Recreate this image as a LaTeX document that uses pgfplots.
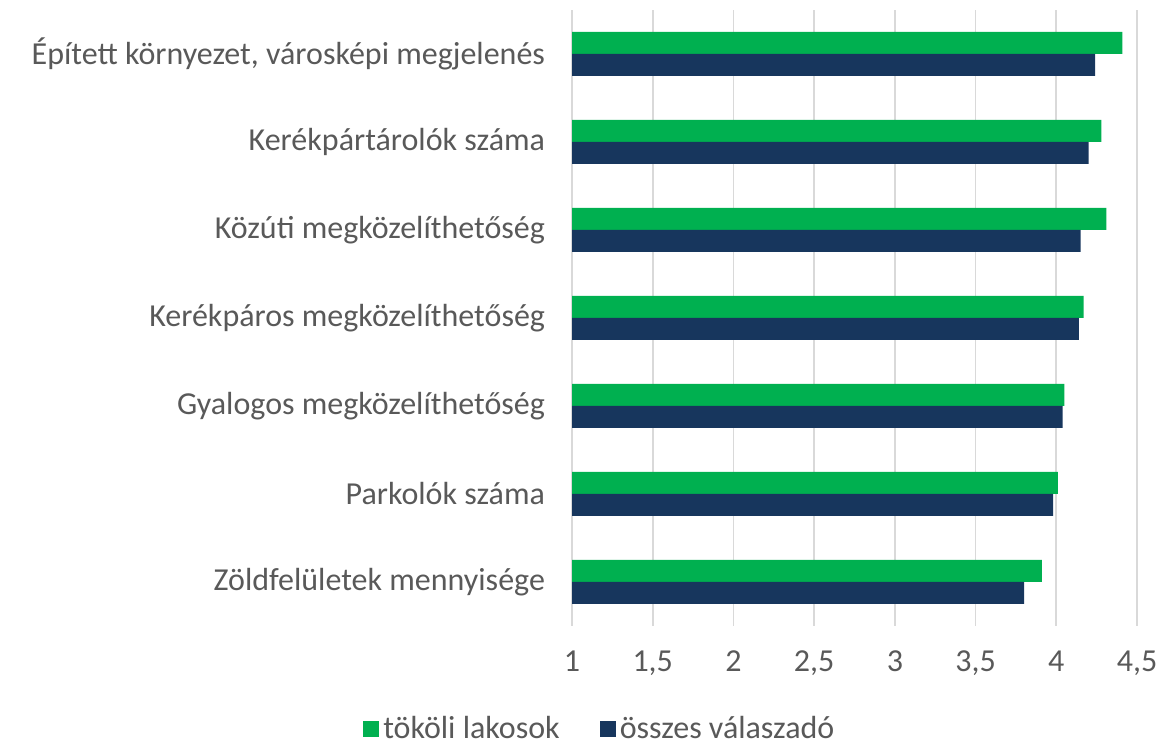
\documentclass[border=0pt]{standalone}
\usepackage{fontspec}
\setmainfont{Carlito}
\usepackage{pgfplots}
\pgfplotsset{compat=1.18}
\definecolor{zold}{HTML}{00B050}
\definecolor{kek}{HTML}{17365D}
\definecolor{szurke}{HTML}{595959}
\definecolor{racs}{HTML}{D9D9D9}
\begin{document}
\begin{tikzpicture}
\begin{axis}[
  name=ax,
  scale only axis,
  width=282.5pt, height=308pt,
  xbar, bar width=11pt,
  xmin=1, xmax=4.5,
  ymin=-0.5, ymax=6.5,
  xtick={1,1.5,...,4.5},
  ytick={0,...,6},
  yticklabels={Zöldfelületek mennyisége, Parkolók száma, Gyalogos megközelíthetőség, Kerékpáros megközelíthetőség, Közúti megközelíthetőség, Kerékpártárolók száma, {Épített környezet, városképi megjelenés}},
  /pgf/number format/use comma,
  /pgf/number format/assume math mode=true,
  xmajorgrids, major grid style={racs, line width=0.8pt},
  axis line style={draw=none},
  axis x line*=bottom, axis y line*=left,
  major tick length=0pt,
  tick label style={font=\fontsize{16}{19}\selectfont, text=szurke},
  xticklabel style={yshift=-9pt},
  yticklabel style={xshift=-10pt},
  legend style={at={(axis description cs:0.051,0)}, anchor=north, yshift=-41pt,
    draw=none, legend columns=2,
    font=\fontsize{16}{19}\selectfont, text=szurke,
    /tikz/every even column/.append style={column sep=18pt}},
  legend image code/.code={\fill[#1] (0pt,-4pt) rectangle (8pt,4pt);},
]
\draw[racs, line width=0.8pt] (axis cs:1,-0.5) -- (axis cs:1,6.5);
\addplot[fill=zold, draw=none, bar shift=5.5pt] coordinates {(3.91,0) (4.01,1) (4.05,2) (4.17,3) (4.31,4) (4.28,5) (4.41,6)};
\addplot[fill=kek, draw=none, bar shift=-5.5pt] coordinates {(3.80,0) (3.98,1) (4.04,2) (4.14,3) (4.15,4) (4.20,5) (4.24,6)};
\legend{tököli lakosok, összes válaszadó}
\end{axis}
\pgfresetboundingbox
\path[use as bounding box] ([xshift=-286pt,yshift=-59.5pt]ax.south west) rectangle ([xshift=13pt,yshift=5pt]ax.north east);
\end{tikzpicture}
\end{document}
